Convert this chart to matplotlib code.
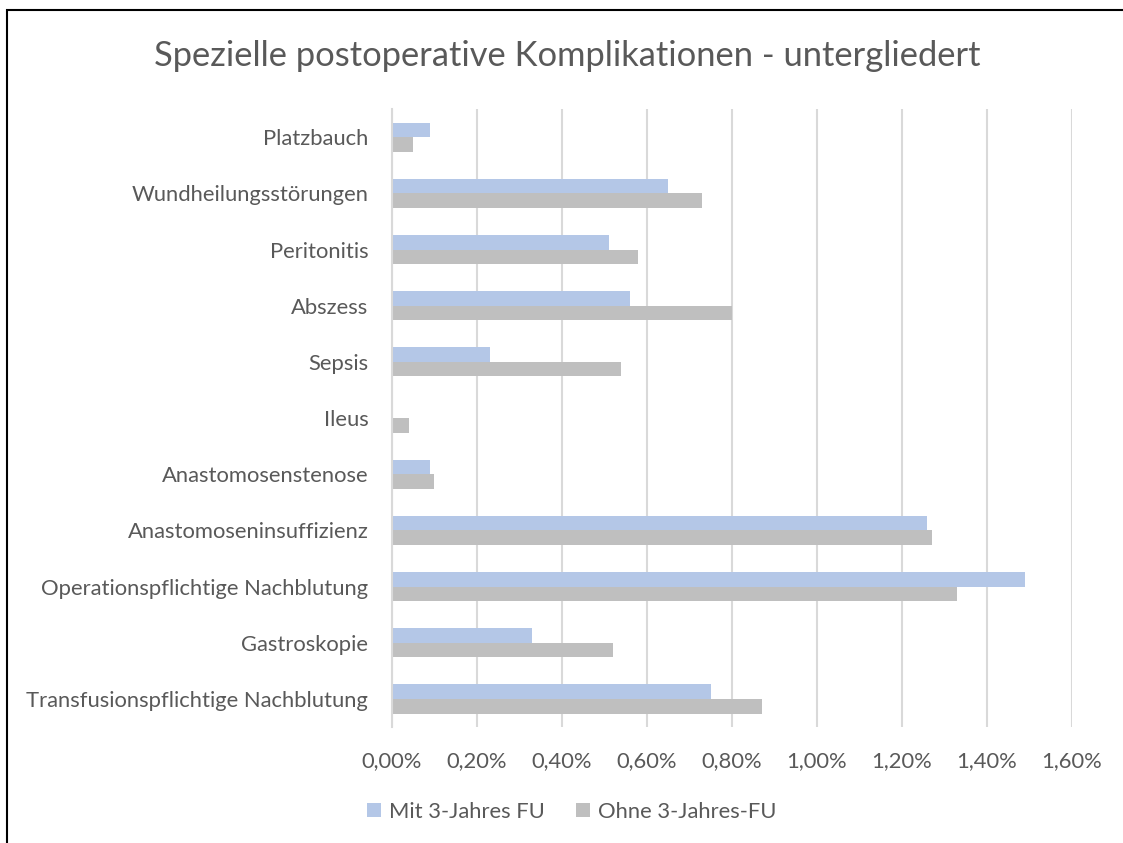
import matplotlib.pyplot as plt
from matplotlib.patches import Rectangle
from matplotlib.ticker import FuncFormatter
import numpy as np

categories = ["Platzbauch", "Wundheilungsstörungen", "Peritonitis", "Abszess", "Sepsis",
              "Ileus", "Anastomosenstenose", "Anastomoseninsuffizienz",
              "Operationspflichtige Nachblutung", "Gastroskopie",
              "Transfusionspflichtige Nachblutung"]
mit_fu = [0.09, 0.65, 0.51, 0.56, 0.23, 0.0, 0.09, 1.26, 1.49, 0.33, 0.75]
ohne_fu = [0.05, 0.73, 0.58, 0.80, 0.54, 0.04, 0.10, 1.27, 1.33, 0.52, 0.87]
series_names = ["Mit 3-Jahres FU", "Ohne 3-Jahres-FU"]
xticks = [0, 0.2, 0.4, 0.6, 0.8, 1.0, 1.2, 1.4, 1.6]

plt.rcParams['font.family'] = ['Lato', 'DejaVu Sans']
txt = '#595959'
blue = '#b4c7e7'
gray = '#bfbfbf'
fs = 15.8

fig = plt.figure(figsize=(11.23, 8.43), dpi=100)
ax = fig.add_axes([0.349, 0.1376, 0.6055, 0.733])

y = np.arange(len(categories))
h = 0.26
ax.barh(y - h / 2, mit_fu, height=h, color=blue, label=series_names[0], zorder=3)
ax.barh(y + h / 2, ohne_fu, height=h, color=gray, label=series_names[1], zorder=3)

ax.set_ylim(len(categories) - 0.5, -0.5)
ax.set_xlim(0, 1.6)
ax.set_xticks(xticks)
ax.xaxis.set_major_formatter(FuncFormatter(lambda v, p: f"{v:.2f}%".replace('.', ',')))
ax.set_yticks(y)
ax.set_yticklabels(categories)
ax.tick_params(axis='both', length=0, colors=txt, labelsize=fs)
ax.tick_params(axis='y', pad=17)
ax.tick_params(axis='x', pad=17)
ax.grid(axis='x', color='#d9d9d9', linewidth=1.5, zorder=0)
for s in ['top', 'right', 'bottom']:
    ax.spines[s].set_visible(False)
ax.spines['left'].set_color('#d9d9d9')
ax.spines['left'].set_linewidth(1.5)
ax.spines['left'].set_zorder(4)

fig.text(0.505, 0.933, "Spezielle postoperative Komplikationen - untergliedert",
         ha='center', va='center', fontsize=24.8, color=txt)

ax.legend(loc='center', bbox_to_anchor=(0.509, 0.037), bbox_transform=fig.transFigure,
          ncol=2, frameon=False, fontsize=fs, labelcolor=txt, handlelength=0.65,
          handleheight=0.65, handletextpad=0.35, columnspacing=1.4)

fig.patches.append(Rectangle((7 / 1123, -0.1), 1.2, 1 - 10 / 843 + 0.1,
                             transform=fig.transFigure, fill=False,
                             edgecolor='black', linewidth=1.5))

fig.savefig("out.png", dpi=100)
